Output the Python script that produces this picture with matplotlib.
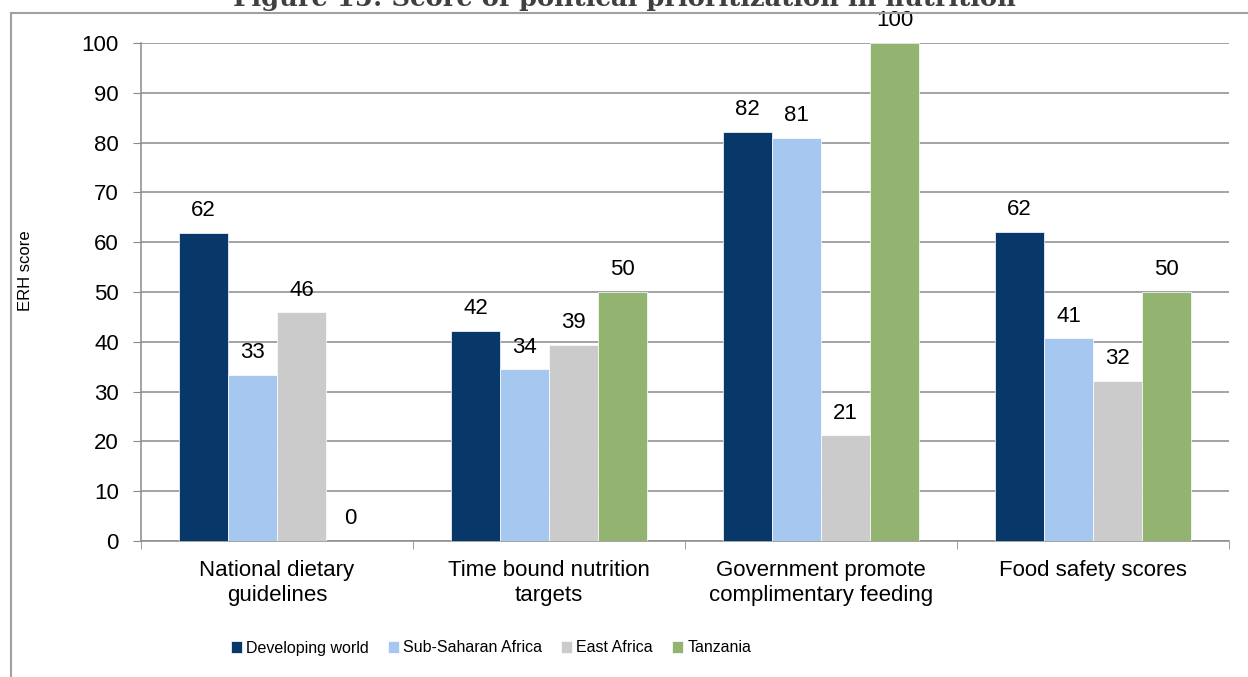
import matplotlib.pyplot as plt
from matplotlib.lines import Line2D
import numpy as np

categories = ["National dietary\nguidelines", "Time bound nutrition\ntargets",
              "Government promote\ncomplimentary feeding", "Food safety scores"]
series_names = ["Developing world", "Sub-Saharan Africa", "East Africa", "Tanzania"]
developing_world = [61.9, 42.2, 82.2, 62.1]
sub_saharan = [33.3, 34.5, 81.0, 40.7]
east_africa = [45.9, 39.4, 21.2, 32.1]
tanzania = [0, 50, 100, 50]
yticks = [0, 10, 20, 30, 40, 50, 60, 70, 80, 90, 100]

colors = ["#08376A", "#A5C7F0", "#CBCBCB", "#93B470"]
grid_col = "#8A8A8A"

plt.rcParams['font.family'] = ['Liberation Sans', 'DejaVu Sans']

fig = plt.figure(figsize=(12.48, 6.77), dpi=100)
W, H = 1248, 677
ax = fig.add_axes([141 / W, (H - 541) / H, (1229 - 141) / W, (541 - 43) / H])

data = [developing_world, sub_saharan, east_africa, tanzania]
x = np.arange(len(categories))
bw = 0.18
for i, vals in enumerate(data):
    pos = x + (i - 1.5) * bw
    ax.bar(pos, vals, width=bw, color=colors[i], edgecolor='white', linewidth=0.5,
           label=series_names[i], zorder=3)
    for p, v in zip(pos, vals):
        ax.annotate("%.0f" % v, (p, v), xytext=(0, 12), textcoords='offset points',
                    ha='center', va='baseline', fontsize=16, color='black', zorder=4)

ax.set_ylim(0, 100)
ax.set_xlim(-0.5, len(categories) - 0.5)
ax.set_yticks(yticks)
ax.tick_params(axis='y', labelsize=16, length=6, color=grid_col, pad=10, direction='out')
ax.yaxis.grid(True, color=grid_col, linewidth=1.1, zorder=0)
ax.set_axisbelow(True)

ax.set_xticks(x)
ax.set_xticklabels(categories, fontsize=16, linespacing=1.25)
ax.tick_params(axis='x', length=0, pad=14)
ax.set_xticks(np.arange(-0.5, len(categories)), minor=True)
ax.tick_params(axis='x', which='minor', length=6, color=grid_col, direction='out')

for s in ['top', 'right']:
    ax.spines[s].set_visible(False)
for s in ['left', 'bottom']:
    ax.spines[s].set_color(grid_col)
    ax.spines[s].set_linewidth(1.1)

ax.set_ylabel("ERH score", fontsize=12)
ax.yaxis.set_label_coords(-(141 - 33) / (1229 - 141), (541 - 271) / (541 - 43))

leg = fig.legend(loc='center', bbox_to_anchor=(491 / W, (H - 648) / H), ncol=4,
                 frameon=False, handlelength=0.7, handleheight=0.7, handletextpad=0.25,
                 columnspacing=1.2, fontsize=11.5)

# outer chart frame (partly cut off)
fig.add_artist(Line2D([11 / W, 11 / W], [0, (H - 13) / H], color='#A0A0A0', lw=1.5,
                      transform=fig.transFigure))
fig.add_artist(Line2D([11 / W, 1], [(H - 13) / H, (H - 13) / H], color='#A0A0A0', lw=1.5,
                      transform=fig.transFigure))

fig.text(624 / W, (H - 6) / H, "Figure 15: Score of political prioritization in nutrition",
         ha='center', va='baseline', fontsize=18.5, fontweight='bold',
         family=['DejaVu Serif'], color='#404040')

fig.savefig("out.png", dpi=100)
